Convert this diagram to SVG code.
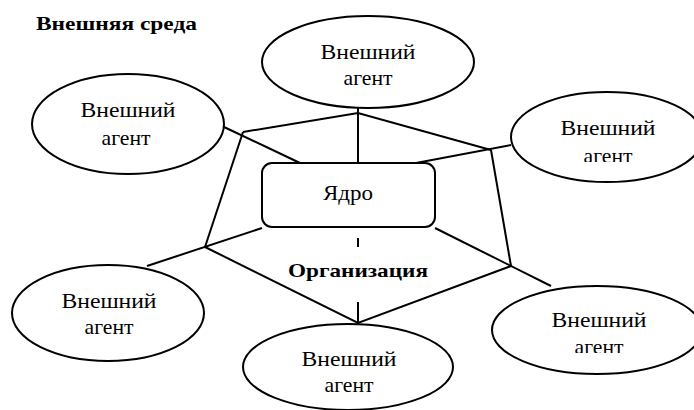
<svg xmlns="http://www.w3.org/2000/svg" width="694" height="410" viewBox="0 0 694 410" font-family="'Liberation Serif', 'Times New Roman', Times, 'DejaVu Serif', serif">
  <defs>
    <style>
      .shape { fill: #fff; stroke: #000; stroke-width: 2; }
      .link { fill: none; stroke: #000; stroke-width: 2; }
      .lbl { font-size: 21px; fill: #000; text-anchor: middle; }
      .bold { font-weight: bold; font-size: 19px; fill: #000; }
    </style>
    <clipPath id="cutRightUpper"><rect x="500" y="90" width="194" height="72"/></clipPath>
    <clipPath id="cutRightLower"><rect x="480" y="280" width="214" height="73"/></clipPath>
  </defs>

  <rect width="694" height="410" fill="#fff"/>

  <text class="bold" x="36" y="30" textLength="161" lengthAdjust="spacingAndGlyphs">Внешняя среда</text>

  <!-- connectors: pentagon frame and spokes -->
  <g id="connectors">
    <polyline class="link" points="243,132 358,113 491,150"/>
    <line class="link" x1="243" y1="132" x2="205" y2="247"/>
    <line class="link" x1="491" y1="150" x2="511" y2="266"/>
    <polyline class="link" points="205,247 358,323 511,266"/>
    <line class="link" x1="358" y1="108" x2="358" y2="163"/>
    <line class="link" x1="224" y1="127" x2="300" y2="163"/>
    <line class="link" x1="511" y1="145" x2="416" y2="163"/>
    <line class="link" x1="262" y1="228" x2="147" y2="266"/>
    <line class="link" x1="435" y1="228" x2="551" y2="286"/>
    <line class="link" x1="358" y1="238" x2="358" y2="247"/>
    <line class="link" x1="358" y1="302" x2="358" y2="324"/>
  </g>

  <g id="core">
    <rect class="shape" x="262" y="163" width="173" height="64" rx="10"/>
    <text class="lbl" x="348" y="200" style="font-size:22px" textLength="50" lengthAdjust="spacingAndGlyphs">Ядро</text>
  </g>

  <g id="organization">
    <text class="bold" x="358" y="277" text-anchor="middle" textLength="140" lengthAdjust="spacingAndGlyphs">Организация</text>
  </g>

  <g id="agent-top">
    <ellipse class="shape" cx="368" cy="62" rx="106" ry="46"/>
    <text class="lbl" x="368" y="59" textLength="95" lengthAdjust="spacingAndGlyphs">Внешний</text>
    <text class="lbl" x="368" y="85" textLength="49" lengthAdjust="spacingAndGlyphs">агент</text>
  </g>

  <g id="agent-left">
    <ellipse class="shape" cx="128" cy="124" rx="96" ry="50"/>
    <text class="lbl" x="128" y="117" textLength="95" lengthAdjust="spacingAndGlyphs">Внешний</text>
    <text class="lbl" x="126" y="145" textLength="49" lengthAdjust="spacingAndGlyphs">агент</text>
  </g>

  <g id="agent-right-upper">
    <ellipse class="shape" cx="607" cy="137" rx="96" ry="45"/>
    <text class="lbl" x="608" y="135" textLength="95" lengthAdjust="spacingAndGlyphs">Внешний</text>
    <text class="lbl" x="608" y="163" clip-path="url(#cutRightUpper)" textLength="49" lengthAdjust="spacingAndGlyphs">агент</text>
  </g>

  <g id="agent-bottom-left">
    <ellipse class="shape" cx="108" cy="313" rx="96" ry="48"/>
    <text class="lbl" x="109" y="308" textLength="95" lengthAdjust="spacingAndGlyphs">Внешний</text>
    <text class="lbl" x="109" y="334" textLength="49" lengthAdjust="spacingAndGlyphs">агент</text>
  </g>

  <g id="agent-bottom">
    <ellipse class="shape" cx="348" cy="367" rx="105" ry="43"/>
    <text class="lbl" x="349" y="366" textLength="95" lengthAdjust="spacingAndGlyphs">Внешний</text>
    <text class="lbl" x="349" y="392" textLength="49" lengthAdjust="spacingAndGlyphs">агент</text>
  </g>

  <g id="agent-right-lower">
    <ellipse class="shape" cx="597" cy="330" rx="105" ry="44"/>
    <text class="lbl" x="599" y="327" textLength="95" lengthAdjust="spacingAndGlyphs">Внешний</text>
    <text class="lbl" x="599" y="354" clip-path="url(#cutRightLower)" textLength="49" lengthAdjust="spacingAndGlyphs">агент</text>
  </g>
</svg>
